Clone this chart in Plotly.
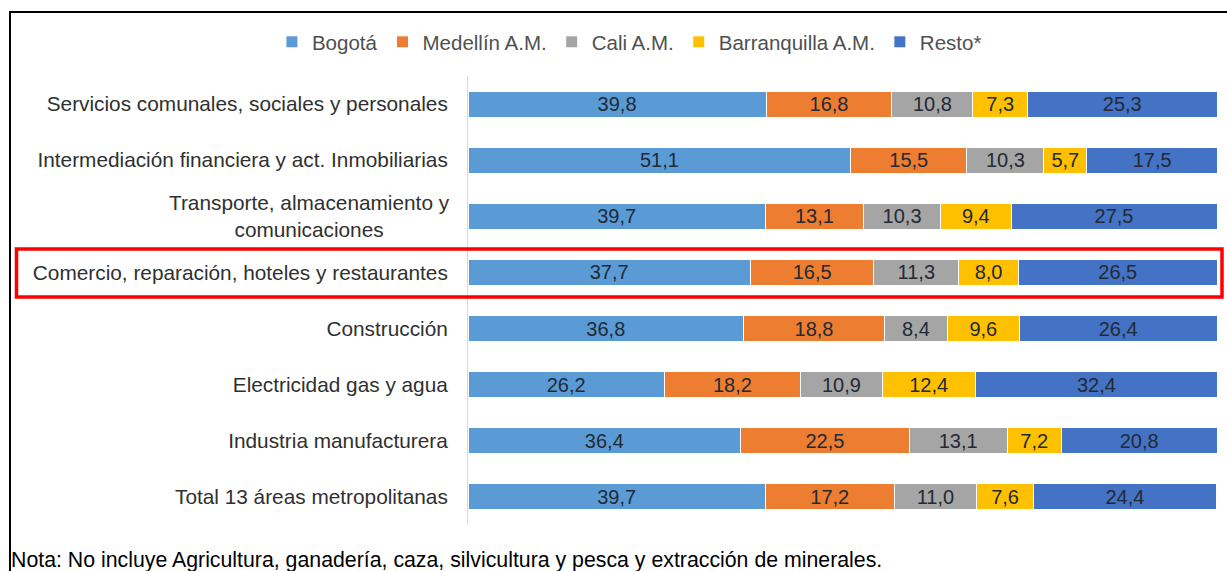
import plotly.graph_objects as go

categories = [
    "Servicios comunales, sociales y personales",
    "Intermediación financiera y act. Inmobiliarias",
    "Transporte, almacenamiento y<br>comunicaciones",
    "Comercio, reparación, hoteles y restaurantes",
    "Construcción",
    "Electricidad gas y agua",
    "Industria manufacturera",
    "Total 13 áreas metropolitanas",
]
series_names = ["Bogotá", "Medellín A.M.", "Cali A.M.", "Barranquilla A.M.", "Resto*"]
bogota = [39.8, 51.1, 39.7, 37.7, 36.8, 26.2, 36.4, 39.7]
medellin = [16.8, 15.5, 13.1, 16.5, 18.8, 18.2, 22.5, 17.2]
cali = [10.8, 10.3, 10.3, 11.3, 8.4, 10.9, 13.1, 11.0]
barranquilla = [7.3, 5.7, 9.4, 8.0, 9.6, 12.4, 7.2, 7.6]
resto = [25.3, 17.5, 27.5, 26.5, 26.4, 32.4, 20.8, 24.4]
note = "Nota: No incluye Agricultura, ganadería, caza, silvicultura y pesca y extracción de minerales."

colors = ["#5B9BD5", "#ED7D31", "#A5A5A5", "#FFC000", "#4472C4"]

W, H = 1227, 571
ML, MR, MT, MB = 468, 10, 76, 46
PW = W - ML - MR
PH = H - MT - MB


def px(x):
    return (x - ML) / PW


def py(y):
    return (H - MB - y) / PH


LABEL_FONT = dict(family="Liberation Sans, Arial, sans-serif", size=20.8, color="#303030")

fig = go.Figure()
for name, vals, col in zip(series_names, [bogota, medellin, cali, barranquilla, resto], colors):
    fig.add_trace(go.Bar(
        name=name,
        y=categories,
        x=vals,
        orientation="h",
        marker=dict(color=col, line=dict(color="white", width=1)),
        text=[f"{v:.1f}".replace(".", ",") for v in vals],
        textposition="inside",
        insidetextanchor="middle",
        textangle=0,
        constraintext="none",
        textfont=dict(family="Liberation Sans, Arial, sans-serif", size=20, color="#222a35"),
        hoverinfo="skip",
    ))

ticktext = [("" if "<br>" in c else c) for c in categories]

fig.update_layout(
    width=W, height=H,
    margin=dict(l=ML, r=MR, t=MT, b=MB),
    barmode="stack",
    bargap=0.536,
    plot_bgcolor="white",
    paper_bgcolor="white",
    showlegend=True,
    legend=dict(
        orientation="h",
        xref="container", yref="container",
        x=0.513, xanchor="center",
        y=1 - 42 / H, yanchor="middle",
        font=dict(family="Liberation Sans, Arial, sans-serif", size=20.5, color="#505050"),
        traceorder="normal",
        itemwidth=30,
    ),
    xaxis=dict(range=[0, 100], visible=False, fixedrange=True),
    yaxis=dict(
        autorange="reversed",
        tickmode="array",
        tickvals=categories,
        ticktext=ticktext,
        tickfont=LABEL_FONT,
        showline=True,
        linecolor="#d9d9d9",
        linewidth=1,
        ticks="",
        ticklabelstandoff=15,
        showgrid=False,
        fixedrange=True,
    ),
)

# centered two-line category label
fig.add_annotation(
    xref="paper", yref="y",
    x=px(452), y=categories[2],
    xanchor="right", yanchor="middle",
    text=categories[2], align="center",
    showarrow=False, font=LABEL_FONT,
)

# note at bottom
fig.add_annotation(
    xref="paper", yref="paper",
    x=px(9), y=py(560),
    xanchor="left", yanchor="middle",
    text=note, showarrow=False,
    font=dict(family="Liberation Sans, Arial, sans-serif", size=21.3, color="#000000"),
)

# outer frame
fig.add_shape(type="rect", xref="paper", yref="paper",
              x0=px(10), x1=px(1260), y0=py(600), y1=py(12),
              line=dict(color="#000000", width=2), layer="above")

# red highlight box
fig.add_shape(type="rect", xref="paper", yref="paper",
              x0=px(16.5), x1=px(1222), y0=py(297), y1=py(249),
              line=dict(color="#ff0000", width=3.5), layer="above")

fig.write_html("out.html", config={"displayModeBar": False, "staticPlot": True})

with open("out.html", "r", encoding="utf-8") as f:
    html = f.read()
html = html.replace("<body>", '<body style="margin:0;padding:0;overflow:hidden">', 1)
with open("out.html", "w", encoding="utf-8") as f:
    f.write(html)
